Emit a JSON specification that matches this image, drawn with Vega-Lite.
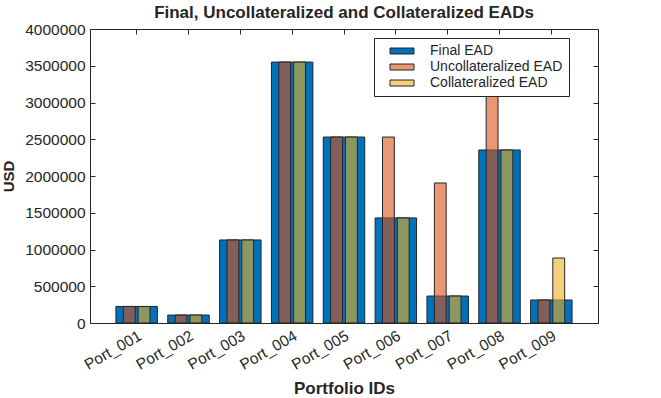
{
  "$schema": "https://vega.github.io/schema/vega-lite/v6.json",
  "width": 508,
  "height": 294,
  "autosize": {"type": "none"},
  "padding": {"left": 90, "top": 29, "right": 63, "bottom": 75},
  "background": "white",
  "config": {
    "font": "Liberation Sans",
    "view": {"stroke": "#262626", "strokeWidth": 1},
    "axis": {"grid": false, "domain": false, "labelFont": "Liberation Sans", "labelFontSize": 15.5, "labelColor": "#262626", "tickColor": "#262626", "titleFont": "Liberation Sans", "titleFontSize": 17, "titleFontWeight": "bold", "titleColor": "#262626"}
  },
  "title": {"text": "Final, Uncollateralized and Collateralized EADs", "fontSize": 17, "fontWeight": "bold", "color": "#262626", "font": "Liberation Sans", "offset": 7, "baseline": "alphabetic", "anchor": "middle", "dy": 20},
  "data": {"values": [
    {"port": "Port_001", "Final EAD": 225000, "Uncollateralized EAD": 225000, "Collateralized EAD": 225000},
    {"port": "Port_002", "Final EAD": 108000, "Uncollateralized EAD": 108000, "Collateralized EAD": 108000},
    {"port": "Port_003", "Final EAD": 1130000, "Uncollateralized EAD": 1130000, "Collateralized EAD": 1130000},
    {"port": "Port_004", "Final EAD": 3550000, "Uncollateralized EAD": 3550000, "Collateralized EAD": 3550000},
    {"port": "Port_005", "Final EAD": 2530000, "Uncollateralized EAD": 2530000, "Collateralized EAD": 2530000},
    {"port": "Port_006", "Final EAD": 1430000, "Uncollateralized EAD": 2530000, "Collateralized EAD": 1430000},
    {"port": "Port_007", "Final EAD": 367000, "Uncollateralized EAD": 1905000, "Collateralized EAD": 367000},
    {"port": "Port_008", "Final EAD": 2354000, "Uncollateralized EAD": 3400000, "Collateralized EAD": 2354000},
    {"port": "Port_009", "Final EAD": 313000, "Uncollateralized EAD": 313000, "Collateralized EAD": 884000}
  ]},
  "transform": [
    {"fold": ["Final EAD", "Uncollateralized EAD", "Collateralized EAD"], "as": ["series", "value"]}
  ],
  "layer": [
    {
      "transform": [{"filter": "datum.series === 'Final EAD'"}],
      "mark": {"type": "bar", "stroke": "#262626", "strokeWidth": 1},
      "encoding": {
        "x": {"field": "port", "type": "nominal", "sort": null,
          "scale": {"paddingInner": 0.2, "paddingOuter": 0.5},
          "axis": {"orient": "bottom", "title": "Portfolio IDs", "labelAngle": -30, "labelAlign": "right", "labelBaseline": "top", "tickSize": -5, "labelPadding": 10, "titlePadding": 8}},
        "y": {"field": "value", "type": "quantitative",
          "scale": {"domain": [0, 4000000], "nice": false},
          "axis": {"orient": "left", "title": "USD", "titleFontSize": 15, "values": [0, 500000, 1000000, 1500000, 2000000, 2500000, 3000000, 3500000, 4000000], "format": "d", "tickSize": -5, "labelPadding": 10, "titlePadding": 8}},
        "color": {"field": "series", "type": "nominal",
          "scale": {"domain": ["Final EAD", "Uncollateralized EAD", "Collateralized EAD"], "range": ["#0072BD", "#D95319", "#EDB120"]},
          "legend": {"title": null, "orient": "none", "legendX": 284, "legendY": 9, "direction": "vertical",
            "symbolType": "M-2,-0.5H2V0.5H-2Z", "symbolSize": 144, "symbolStrokeColor": "#262626", "symbolStrokeWidth": 1,
            "symbolOffset": 15, "labelOffset": 21,
            "labelFontSize": 14, "labelColor": "#262626", "labelFont": "Liberation Sans", "rowPadding": 2,
            "strokeColor": "#262626", "fillColor": "white", "padding": 6,
            "encode": {"symbols": {"update": {"fillOpacity": {"signal": "datum.value === 'Final EAD' ? 1 : 0.6"}, "opacity": {"value": 1}}}}}}
      }
    },
    {
      "transform": [{"filter": "datum.series !== 'Final EAD'"}],
      "mark": {"type": "bar", "stroke": "#262626", "strokeWidth": 1, "fillOpacity": 0.6},
      "encoding": {
        "x": {"field": "port", "type": "nominal", "sort": null,
          "axis": {"orient": "top", "title": null, "labels": false, "tickSize": -5, "minExtent": 0, "maxExtent": 0}},
        "xOffset": {"field": "series", "type": "nominal",
          "scale": {"domain": ["Uncollateralized EAD", "Collateralized EAD"], "paddingInner": 0.2, "paddingOuter": 0.5}},
        "y": {"field": "value", "type": "quantitative",
          "axis": {"orient": "right", "title": null, "labels": false, "values": [0, 500000, 1000000, 1500000, 2000000, 2500000, 3000000, 3500000, 4000000], "tickSize": -5, "minExtent": 0, "maxExtent": 0}},
        "color": {"field": "series", "type": "nominal"}
      }
    }
  ],
  "resolve": {"axis": {"x": "independent", "y": "independent"}}
}
